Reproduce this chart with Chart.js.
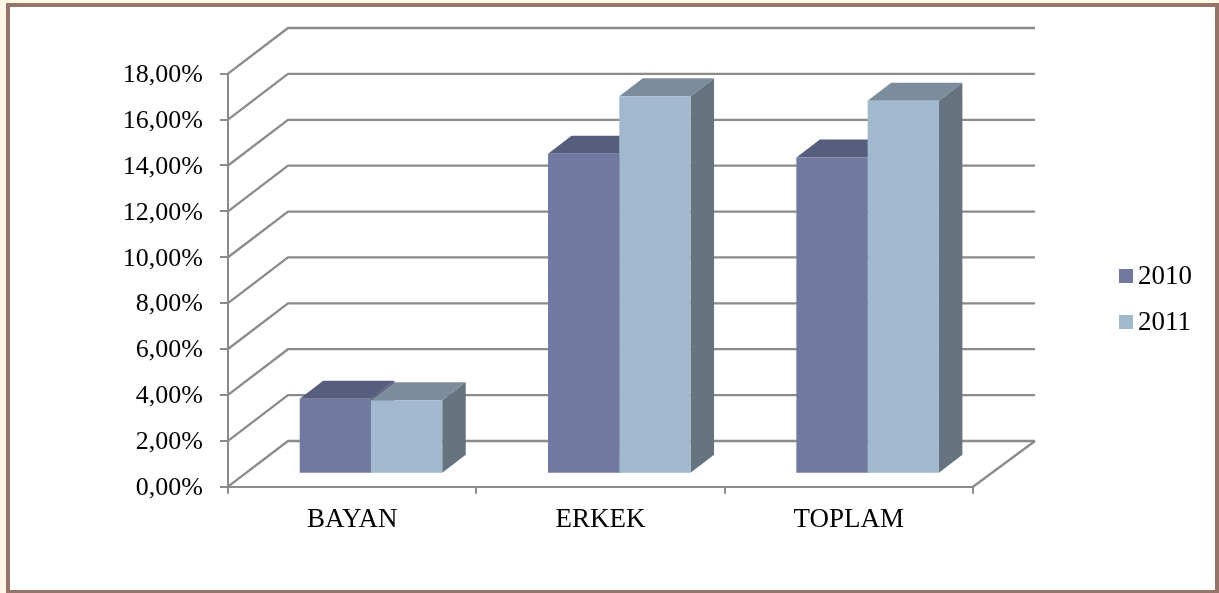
<!DOCTYPE html>
<html>
<head>
<meta charset="utf-8">
<style>
html,body{margin:0;padding:0;background:#fff;}
canvas{display:block;position:absolute;left:0;top:0;}
</style>
<script src="https://cdn.jsdelivr.net/npm/chart.js@4/dist/chart.umd.min.js"></script>
</head>
<body>
<canvas id="c" width="1219" height="593"></canvas>
<script>
const categories = ['BAYAN', 'ERKEK', 'TOPLAM'];
const seriesNames = ['2010', '2011'];
const values2010 = [3.27, 13.95, 13.78];
const values2011 = [3.2, 16.45, 16.25];

const FONT = '"Liberation Serif"';
const GRID = '#8b8b8b';
// wall depth of the 3D box and the depth/offset of the bars inside it
const WALL = {dx: 60, dy: -45.7};
const BAR_OFFSET = {dx: 18.8, dy: -13};
const BAR_DEPTH = {dx: 23.5, dy: -18};
const SHADES = [
  {front: '#7179A0', top: '#575E7D', side: '#4F5570'},
  {front: '#A0B9CE', top: '#7B8C9C', side: '#65747F'}
];

const threeD = {
  id: 'threeD',
  beforeDraw(chart) {
    const {ctx, width, height} = chart;
    ctx.save();
    ctx.fillStyle = '#FFF6E6';
    ctx.fillRect(0, 0, width, height);
    ctx.fillStyle = '#947569';
    ctx.fillRect(6, 3, width - 6, height - 3);
    ctx.fillStyle = '#FFFFFF';
    ctx.fillRect(10, 7, width - 14, height - 10);
    ctx.restore();
    // nudge the value labels down to sit where the reference has them
    const items = chart.scales.y.getLabelItems();
    if (!items.nudged) {
      items.forEach(i => { i.options.translation[1] += 1.5; });
      items.nudged = true;
    }
  },
  beforeDatasetsDraw(chart) {
    const {ctx} = chart;
    const x = chart.scales.x, y = chart.scales.y;
    ctx.save();
    ctx.strokeStyle = GRID;
    ctx.lineWidth = 2.3;
    y.ticks.forEach(t => {
      const py = y.getPixelForValue(t.value);
      ctx.beginPath();
      ctx.moveTo(x.left, py);
      ctx.lineTo(x.left + WALL.dx, py + WALL.dy);
      ctx.lineTo(x.right + WALL.dx + 2, py + WALL.dy);
      ctx.stroke();
    });
    const py0 = y.getPixelForValue(0);
    ctx.beginPath();
    ctx.moveTo(x.right, py0);
    ctx.lineTo(x.right + WALL.dx + 2, py0 + WALL.dy);
    ctx.stroke();
    ctx.restore();

    // the whole bar group sits inside the box, away from the front plane
    ctx.save();
    ctx.translate(BAR_OFFSET.dx, BAR_OFFSET.dy);
    const d = BAR_DEPTH;
    chart.data.datasets.forEach((ds, i) => {
      const shade = SHADES[i];
      chart.getDatasetMeta(i).data.forEach(bar => {
        const p = bar.getProps(['x', 'y', 'base', 'width'], true);
        const l = p.x - p.width / 2, r = p.x + p.width / 2;
        ctx.fillStyle = shade.side;
        ctx.beginPath();
        ctx.moveTo(r, p.y);
        ctx.lineTo(r + d.dx, p.y + d.dy);
        ctx.lineTo(r + d.dx, p.base + d.dy);
        ctx.lineTo(r, p.base);
        ctx.closePath();
        ctx.fill();
        ctx.fillStyle = shade.top;
        ctx.beginPath();
        ctx.moveTo(l, p.y);
        ctx.lineTo(l + d.dx, p.y + d.dy);
        ctx.lineTo(r + d.dx, p.y + d.dy);
        ctx.lineTo(r, p.y);
        ctx.closePath();
        ctx.fill();
      });
    });
  },
  afterDatasetsDraw(chart) {
    chart.ctx.restore();
  },
  afterDraw(chart) {
    const {ctx} = chart;
    ctx.save();
    ctx.font = '27px ' + FONT;
    ctx.textBaseline = 'middle';
    ctx.textAlign = 'left';
    chart.data.datasets.forEach((ds, i) => {
      const cy = 276 + i * 46;
      ctx.fillStyle = ds.backgroundColor;
      ctx.fillRect(1119, cy - 7, 14, 14);
      ctx.fillStyle = '#000';
      ctx.fillText(ds.label, 1138, cy + 1);
    });
    ctx.restore();
  }
};

new Chart(document.getElementById('c'), {
  type: 'bar',
  data: {
    labels: categories,
    datasets: [
      {label: seriesNames[0], data: values2010, backgroundColor: SHADES[0].front, clip: false},
      {label: seriesNames[1], data: values2011, backgroundColor: SHADES[1].front, clip: false}
    ]
  },
  options: {
    responsive: false,
    animation: false,
    devicePixelRatio: 1,
    layout: {padding: {top: 73.7, right: 246, left: 0, bottom: 0}},
    plugins: {legend: {display: false}, tooltip: {enabled: false}, title: {display: false}},
    datasets: {bar: {categoryPercentage: 0.574, barPercentage: 1, borderWidth: 0}},
    scales: {
      x: {
        afterFit(s) { s.height = 593 - 486.7; },
        grid: {offset: true, drawOnChartArea: false, drawTicks: true, tickLength: 7, color: GRID, lineWidth: 2},
        border: {display: true, color: GRID, width: 2},
        ticks: {font: {family: FONT, size: 27}, color: '#000', padding: 10, maxRotation: 0}
      },
      y: {
        min: 0, max: 18,
        afterFit(s) { s.width = 228; },
        grid: {drawOnChartArea: false, drawTicks: true, tickLength: 8, color: GRID, lineWidth: 2},
        border: {display: true, color: GRID, width: 2},
        ticks: {
          stepSize: 2,
          font: {family: FONT, size: 26},
          color: '#000',
          padding: 17,
          callback: v => v.toFixed(2).replace('.', ',') + '%'
        }
      }
    }
  },
  plugins: [threeD]
});
</script>
</body>
</html>
